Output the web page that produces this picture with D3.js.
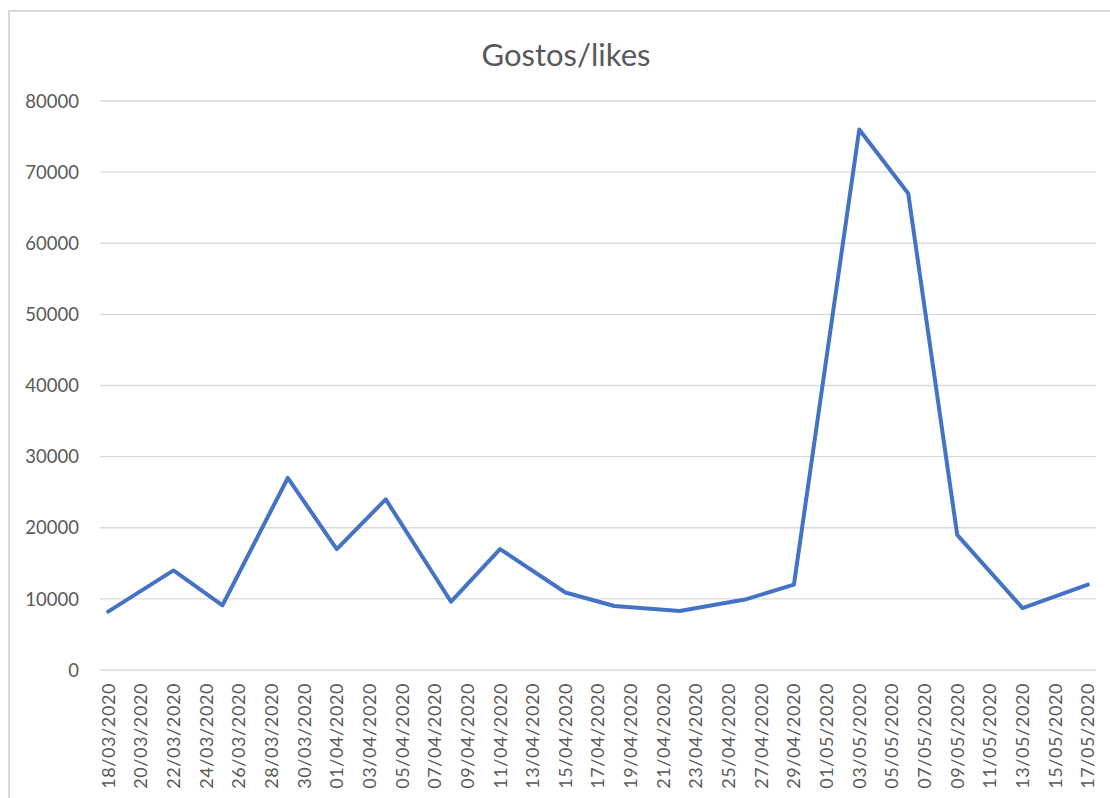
<!DOCTYPE html>
<html>
<head>
<meta charset="utf-8">
<script src="https://cdn.jsdelivr.net/npm/d3@7"></script>
<style>
  body { margin: 0; background: #fff; }
  text { font-family: Lato, "Open Sans", sans-serif; fill: #595959; }
</style>
</head>
<body>
<div id="chart"></div>
<script>
// Values
const dates = ["18/03/2020", "22/03/2020", "25/03/2020", "29/03/2020", "01/04/2020", "04/04/2020",
    "08/04/2020", "11/04/2020", "15/04/2020", "18/04/2020", "22/04/2020", "26/04/2020",
    "29/04/2020", "03/05/2020", "06/05/2020", "09/05/2020", "13/05/2020", "17/05/2020"];
const likes = [8200, 14000, 9100, 27000, 17000, 24000,
    9600, 17000, 10900, 9000, 8300, 9900,
    12000, 76000, 67000, 19000, 8700, 12000];
const yTicks = [0, 10000, 20000, 30000, 40000, 50000, 60000, 70000, 80000];
const title = "Gostos/likes";

const width = 1110, height = 798;
const parse = d3.utcParse("%d/%m/%Y");
const fmt = d3.utcFormat("%d/%m/%Y");
const data = dates.map((d, i) => ({ date: parse(d), value: likes[i] }));

const svg = d3.select("#chart").append("svg")
    .attr("width", width)
    .attr("height", height);

// chart frame
svg.append("rect")
    .attr("x", 9).attr("y", 11)
    .attr("width", width).attr("height", height)
    .attr("fill", "none")
    .attr("stroke", "#d9d9d9")
    .attr("stroke-width", 2);

// each day takes one slot, points sit in the middle of it
const first = data[0].date, last = data[data.length - 1].date;
const x = d3.scaleUtc()
    .domain([d3.utcHour.offset(first, -12), d3.utcHour.offset(last, 12)])
    .range([100, 1096]);
const y = d3.scaleLinear()
    .domain([0, 80000])
    .range([670, 101]);

// gridlines
svg.append("g")
    .selectAll("line")
    .data(yTicks)
    .join("line")
    .attr("x1", x.range()[0])
    .attr("x2", x.range()[1])
    .attr("y1", d => y(d))
    .attr("y2", d => y(d))
    .attr("stroke", "#d9d9d9")
    .attr("stroke-width", 1.3);

// y labels
svg.append("g")
    .selectAll("text")
    .data(yTicks)
    .join("text")
    .attr("x", 79)
    .attr("y", d => y(d))
    .attr("dy", "0.36em")
    .attr("text-anchor", "end")
    .attr("font-size", "18.5px")
    .text(d => d);

// x labels every 2 days
const xTicks = d3.utcDay.range(first, d3.utcDay.offset(last, 1), 2);
svg.append("g")
    .selectAll("text")
    .data(xTicks)
    .join("text")
    .attr("transform", d => `translate(${x(d)},683) rotate(-90)`)
    .attr("dy", "0.36em")
    .attr("text-anchor", "end")
    .attr("font-size", "18px")
    .attr("letter-spacing", "0.6px")
    .text(d => fmt(d));

// line
svg.append("path")
    .datum(data)
    .attr("fill", "none")
    .attr("stroke", "#4472c4")
    .attr("stroke-width", 4)
    .attr("stroke-linejoin", "round")
    .attr("stroke-linecap", "round")
    .attr("d", d3.line().x(d => x(d.date)).y(d => y(d.value)));

// title
svg.append("text")
    .attr("x", 566)
    .attr("y", 66)
    .attr("text-anchor", "middle")
    .attr("font-size", "31px")
    .text(title);
</script>
</body>
</html>
